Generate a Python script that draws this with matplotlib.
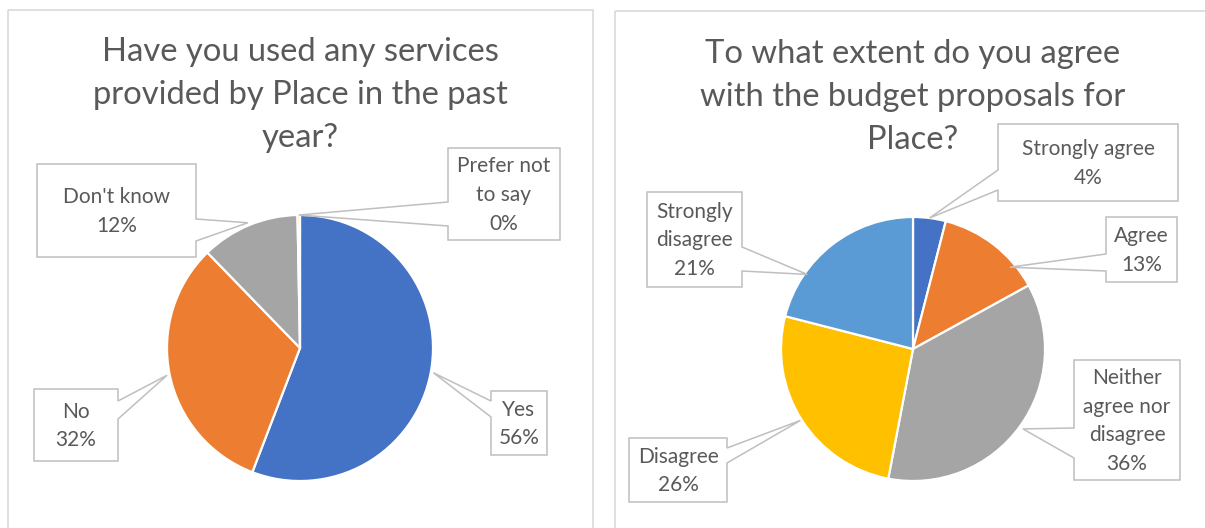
import numpy as np
import matplotlib
matplotlib.use("Agg")
import matplotlib.pyplot as plt
from matplotlib.patches import Polygon, Rectangle

# ---------------- data ----------------
used_title = ["Have you used any services", "provided by Place in the past", "year?"]
used_labels = ["Yes", "No", "Don't know", "Prefer not\nto say"]
used_values = [56, 32, 12, 0.3]
used_colors = ["#4472C4", "#ED7D31", "#A5A5A5", "#FFC000"]

agree_title = ["To what extent do you agree", "with the budget proposals for", "Place?"]
agree_labels = ["Strongly agree", "Agree", "Neither\nagree nor\ndisagree", "Disagree", "Strongly\ndisagree"]
agree_values = [4, 13, 36, 26, 21]
agree_colors = ["#4472C4", "#ED7D31", "#A5A5A5", "#FFC000", "#5B9BD5"]

# ---------------- layout (pixels) ----------------
W, H, DPI = 1205, 528, 100
FONT = "Lato"
TXT = "#595959"
EDGE = "#BFBFBF"

fig = plt.figure(figsize=(W / DPI, H / DPI), dpi=DPI)
fig.patch.set_facecolor("white")


def pie_axes(cx, cy, r):
    ax = fig.add_axes([(cx - r) / W, (H - cy - r) / H, 2 * r / W, 2 * r / H])
    return ax


ov = fig.add_axes([0, 0, 1, 1], zorder=5)
ov.set_xlim(0, W)
ov.set_ylim(H, 0)
ov.axis("off")
ov.patch.set_alpha(0)

# panel borders
ov.add_patch(Rectangle((8, 10), 585, 540, fill=False, edgecolor="#D9D9D9", lw=1.2))
ov.add_patch(Rectangle((615, 11), 610, 540, fill=False, edgecolor="#D9D9D9", lw=1.2))


def draw_pie(cx, cy, r, values, colors):
    ax = pie_axes(cx, cy, r)
    wedges, _ = ax.pie(values, colors=colors, startangle=90, counterclock=False,
                       wedgeprops=dict(edgecolor="white", linewidth=1.6))
    ax.set_xlim(-1, 1)
    ax.set_ylim(-1, 1)
    ax.set_aspect("auto")
    return ax, wedges


def tip_point(ax, wedge, shift=0.0, rf=1.0):
    mid = np.deg2rad((wedge.theta1 + wedge.theta2) / 2 + shift)
    p = ax.transData.transform((rf * np.cos(mid), rf * np.sin(mid)))
    return ov.transData.inverted().transform(p)


def callout(box, side, base, tip, text, fs=15, ls=1.55):
    x0, y0, x1, y1 = box
    b0, b1 = base
    tx, ty = tip
    verts = [(x0, y0), (x1, y0)]
    if side == "right":
        verts += [(x1, b0), (tx, ty), (x1, b1)]
    verts += [(x1, y1), (x0, y1)]
    if side == "left":
        verts += [(x0, b1), (tx, ty), (x0, b0)]
    ov.add_patch(Polygon(verts, closed=True, facecolor="white", edgecolor=EDGE, lw=1.1))
    ov.text((x0 + x1) / 2, (y0 + y1) / 2 + 1, text, ha="center", va="center",
            fontsize=fs, color=TXT, family=FONT, linespacing=ls)


def pct(values):
    tot = sum(values)
    return ["%d%%" % round(v / tot * 100) for v in values]


# ---------------- left chart ----------------
for i, line in enumerate(used_title):
    ov.text(300, 52 + i * 43, line, ha="center", va="center", fontsize=23.6, color=TXT, family=FONT)

axL, wL = draw_pie(300, 348, 133, used_values, used_colors)
pL = pct(used_values)
left_boxes = [
    ((491, 391, 547, 455), "left", (401, 417), 0, 1.02),
    ((34, 389, 118, 461), "right", (401, 419), 0, 1.02),
    ((37, 164, 196, 257), "right", (219, 241), 0, 1.02),
    ((448, 148, 560, 240), "left", (202, 226), 0, 1.0),
]
for lab, p, w, (box, side, base, sh, rf) in zip(used_labels, pL, wL, left_boxes):
    callout(box, side, base, tip_point(axL, w, sh, rf), lab + "\n" + p)

# ---------------- right chart ----------------
for i, line in enumerate(agree_title):
    ov.text(913, 54 + i * 43, line, ha="center", va="center", fontsize=23.6, color=TXT, family=FONT)

axR, wR = draw_pie(913, 349, 132, agree_values, agree_colors)
pR = pct(agree_values)
right_boxes = [
    ((998, 124, 1178, 201), "left", (170, 190), 0, 1.0),
    ((1106, 217, 1177, 282), "left", (254, 271), -12, 0.96),
    ((1074, 360, 1180, 480), "left", (428, 458), 0, 1.03),
    ((629, 438, 727, 502), "right", (448, 463), 0, 1.01),
    ((647, 192, 742, 287), "right", (247, 271), 17, 0.98),
]
for lab, p, w, (box, side, base, sh, rf) in zip(agree_labels, pR, wR, right_boxes):
    callout(box, side, base, tip_point(axR, w, sh, rf), lab + "\n" + p)

fig.savefig("out.png", dpi=DPI, facecolor="white")
